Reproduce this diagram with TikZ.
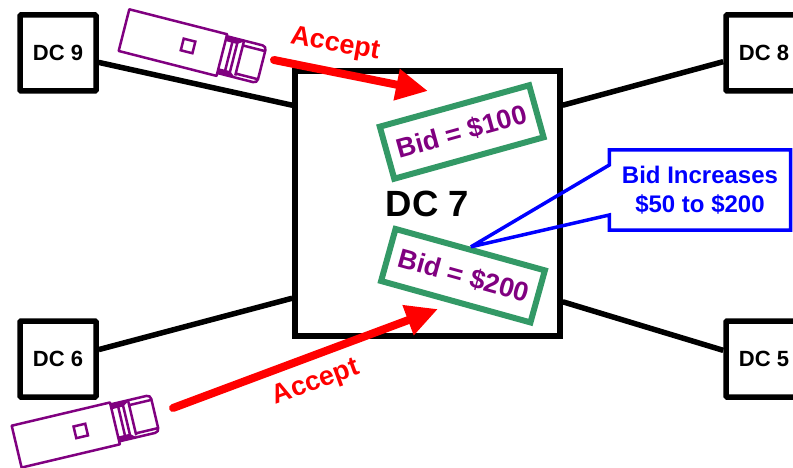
\documentclass[tikz,border=0pt]{standalone}
\usepackage{fontspec}
\setmainfont{Liberation Sans}
\usetikzlibrary{arrows.meta}
\definecolor{bidgreen}{HTML}{339966}
\definecolor{truckpurple}{HTML}{800080}
\tikzset{
	dcbox/.style={draw=black, line width=5.5pt, rounded corners=1pt, minimum size=76pt, inner sep=0pt, font=\bfseries\fontsize{22}{26}\selectfont},
	dclink/.style={draw=black, line width=5.5pt},
	bidbox/.style={draw=bidgreen, line width=6pt, minimum width=155pt, minimum height=54pt, inner sep=0pt, text=truckpurple, font=\bfseries\fontsize{27}{30}\selectfont},
	acceptarrow/.style={draw=red, line width=8pt, line cap=round, -{Triangle[length=32pt,width=30pt,fill=red]}},
	acceptlabel/.style={text=red, inner sep=0pt, font=\bfseries\fontsize{27}{30}\selectfont},
	truck/.pic={
		\draw[truckpurple, line width=2.5pt, line join=round] (0,0) -- (101,0) -- (101,43) -- (0,43) -- cycle;
		\draw[truckpurple, line width=2.5pt] (60,15) rectangle (72,27);
		\draw[truckpurple, line width=2.5pt, rounded corners=4pt] (101,2) -- (142,2) -- (142,40) -- (101,40);
		\draw[truckpurple, line width=2.5pt] (108,3) -- (108,40) (113,3) -- (113,40) (119,3) -- (119,38)
			(119,7) -- (142,7) (119,36) -- (142,36);
		\fill[truckpurple] (101,2) -- (119,3) -- (113,7) -- (101,7) -- cycle
			(101,35) -- (113,35) -- (119,40) -- (101,40) -- cycle;
	}
}
\begin{document}
\begin{tikzpicture}[x=1pt, y=-1pt]
	\useasboundingbox (0,0) rectangle (793,468);
	\node[dcbox] (dc9) at (58,53) {DC 9};
	\node[dcbox] (dc8) at (764,53) {DC 8};
	\node[dcbox] (dc6) at (58,359) {DC 6};
	\node[dcbox] (dc5) at (764,359) {DC 5};
	\node[draw=black, line width=5.5pt, minimum size=265pt, inner sep=0pt, font=\bfseries\fontsize{36.5}{40}\selectfont] (dc7) at (427.5,203.5) {DC 7};
	\path[dclink]
		(dc9.-13) edge (dc7.144.5)
		(dc8.192) edge (dc7.36.1)
		(dc6.13) edge (dc7.-145)
		(dc5.168) edge (dc7.-36.1);

	\node[bidbox, rotate=15.5] (bid100) at (461.7,132) {Bid = \$100};
	\node[bidbox, rotate=-15.5] (bid200) at (463,275.7) {\hspace{2pt}Bid = \$200};

	\pic[rotate=-14.3] (truck9) at (129.3,9.3) {truck};
	\pic[rotate=13.3] (truck6) at (11.7,425.7) {truck};

	\coordinate (start9) at (274,60);
	\coordinate (end9) at (428,91);
	\coordinate (start6) at (173,408);
	\coordinate (end6) at (438,309);
	\path
		(start9) edge[acceptarrow] (end9)
		(start6) edge[acceptarrow] (end6);
	\node[acceptlabel, rotate=-10] (accept9) at (335,45) {Accept};
	\node[acceptlabel, rotate=20] (accept6) at (316,383) {Accept};

	\node[align=center, inner sep=0pt, minimum width=181pt, minimum height=80pt, text=blue, font=\bfseries\fontsize{24}{29}\selectfont] (bidup) at (700,190) {Bid Increases\\\$50 to \$200};
	\draw[blue, line width=3.5pt, line join=miter, miter limit=2]
		(bid200.north) -- (bidup.west |- 0,165) -- (bidup.north west) -- (bidup.north east)
		-- (bidup.south east) -- (bidup.south west) -- (bidup.west |- 0,215) -- cycle;
\end{tikzpicture}
\end{document}
